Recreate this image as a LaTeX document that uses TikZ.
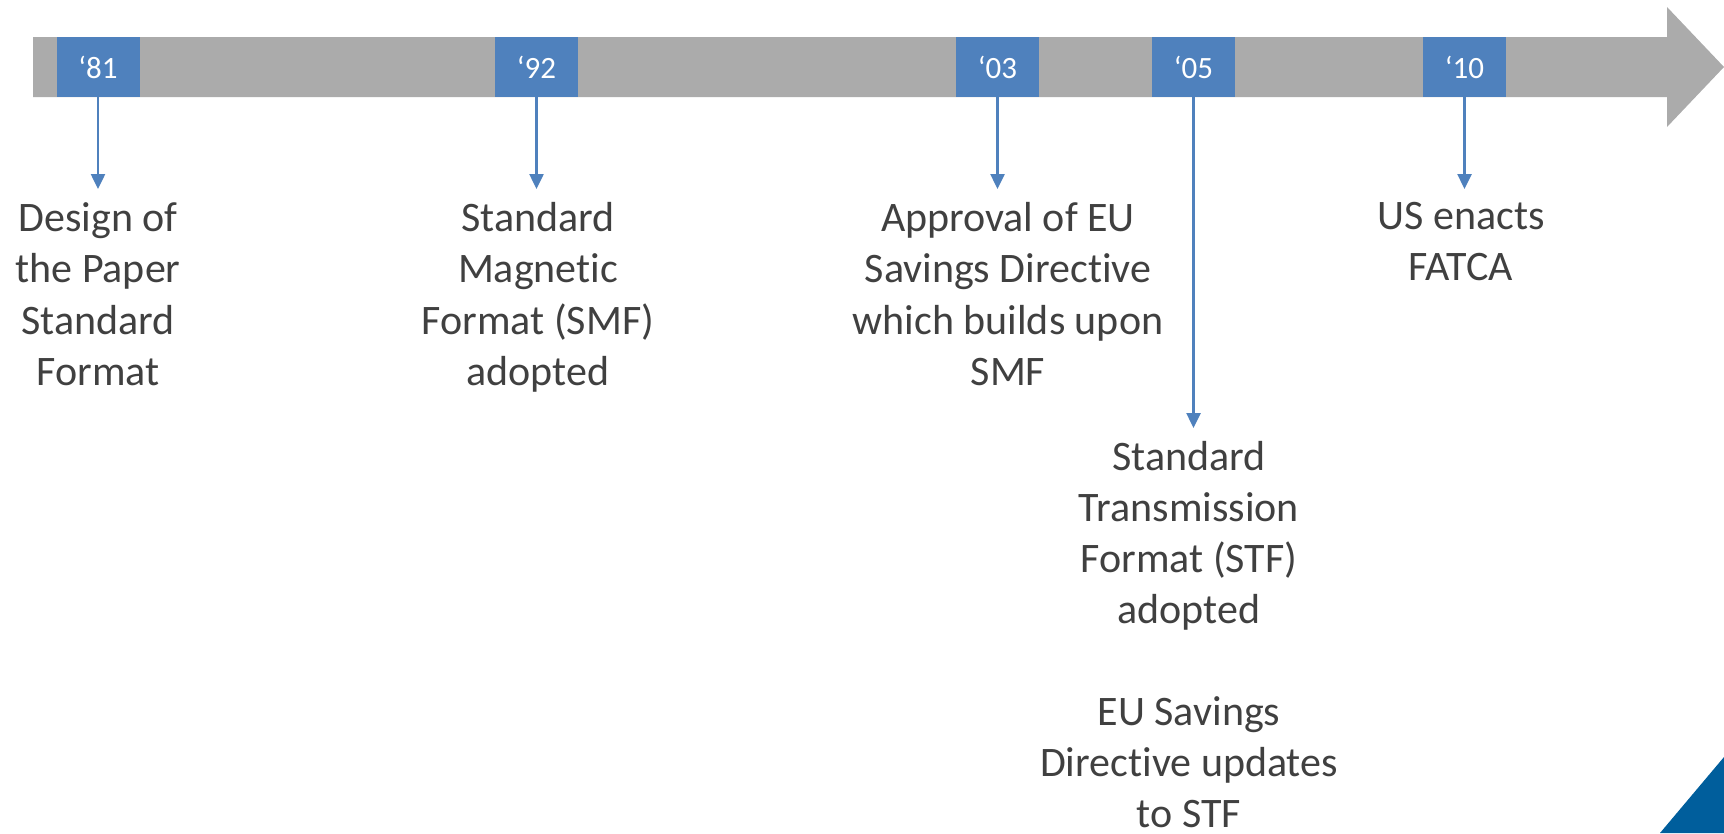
\documentclass[tikz,border=0pt]{standalone}
\usepackage{fontspec}
\setmainfont{Carlito}[Ligatures=NoCommon]
\usetikzlibrary{arrows.meta}
\definecolor{bargray}{HTML}{ABABAB}
\definecolor{yearblue}{HTML}{4F81BD}
\definecolor{txtgray}{HTML}{404040}
\definecolor{cornerblue}{HTML}{005E9C}
\begin{document}
\begin{tikzpicture}[x=1pt,y=-1pt,
  yearbox/.style={fill=yearblue, minimum width=83pt, minimum height=60pt,
    inner sep=0pt, text=white, font=\fontsize{31}{36}\selectfont},
  event/.style={align=center, text=txtgray, inner sep=0pt, anchor=north,
    font=\fontsize{42}{51.5}\selectfont},
  link/.style={draw=yearblue, line width=2.5pt,
    -{Triangle[width=14pt,length=15pt]}, shorten >=13pt}]
\useasboundingbox (0,0) rectangle (1724,833);
% timeline arrow
\fill[bargray] (33,37) -- (1667,37) -- (1667,7) -- (1724,67) -- (1667,127)
  -- (1667,97) -- (33,97) -- cycle;
% corner mark
\fill[cornerblue] (1660,833) -- (1724,757) -- (1724,833) -- cycle;
% year markers
\node[yearbox] (y81) at (98,67) {‘81};
\node[yearbox] (y92) at (536.5,67) {‘92};
\node[yearbox] (y03) at (997.5,67) {‘03};
\node[yearbox] (y05) at (1193.5,67) {‘05};
\node[yearbox] (y10) at (1464.5,67) {‘10};
% events
\node[event] (e81) at (98,202) {Design of\\the Paper\\Standard\\Format};
\node[event] (e92) at (538,202) {Standard\\Magnetic\\Format (SMF)\\adopted};
\node[event] (e03) at (1008,202) {Approval of EU\\Savings Directive\\which builds upon\\SMF};
\node[event] (e10) at (1461,202) {US enacts\\FATCA};
\node[event, font=\fontsize{42}{51}\selectfont] (e05) at (1189,441)
  {Standard\\Transmission\\Format (STF)\\adopted\\[51pt]EU Savings\\Directive updates\\to STF};
% connectors
\draw[link] (y81.south) -- (y81.south |- e81.north);
\draw[link] (y92.south) -- (y92.south |- e92.north);
\draw[link] (y03.south) -- (y03.south |- e03.north);
\draw[link] (y05.south) -- (y05.south |- e05.north);
\draw[link] (y10.south) -- (y10.south |- e10.north);
\end{tikzpicture}
\end{document}
